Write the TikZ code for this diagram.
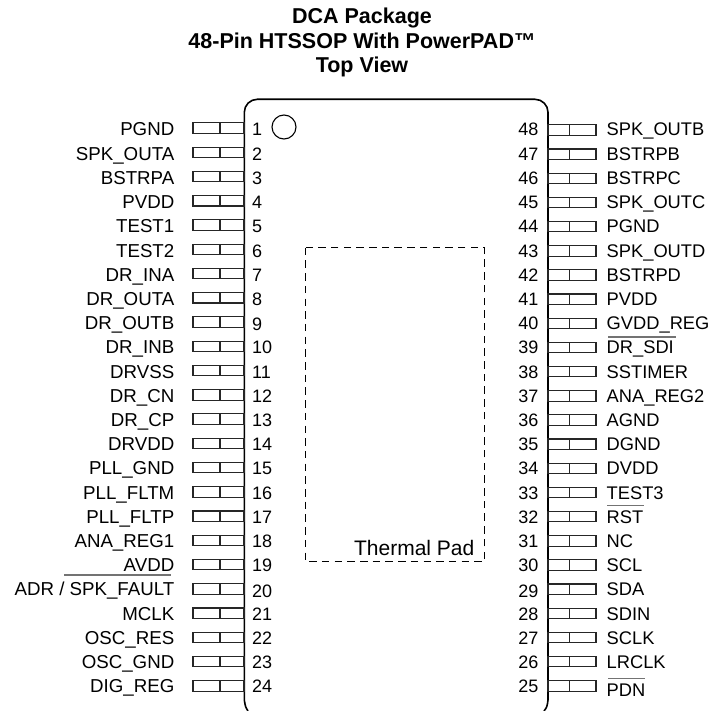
\documentclass[tikz,border=0pt]{standalone}
\usepackage{fontspec}
\setmainfont{Liberation Sans}
\usetikzlibrary{positioning}
\tikzset{
    pkg/.style={line width=1.6pt, black},
    pinbox/.style={line width=1.1pt, black!85},
    padline/.style={line width=1.2pt, black, dash pattern=on 7.5pt off 5.2pt},
    barline/.style={line width=1.1pt, black!55},
    pinlabel/.style={inner sep=0pt, font=\fontsize{18.7}{20}\selectfont},
    rightlabel/.style={inner sep=0pt, font=\fontsize{18.3}{20}\selectfont},
    pinnum/.style={inner sep=0pt, font=\fontsize{18}{20}\selectfont},
    titletext/.style={inner sep=0pt, anchor=base, font=\fontsize{21.5}{24}\selectfont\bfseries}
}
\begin{document}
\begin{tikzpicture}[x=1pt, y=-1pt]
    \useasboundingbox (0,0) rectangle (710,711);

    % title
    \node [titletext] (T1) at (362,24) {DCA Package};
    \node [titletext] (T2) at (362,49) {48-Pin HTSSOP With PowerPAD™};
    \node [titletext] (T3) at (362,72.7) {Top View};

    % package outline, runs off the bottom
    \coordinate (BL) at (248,711);
    \coordinate (BR) at (544,711);
    \draw [pkg] (BL) .. controls (245.5,707) .. (244.3,700)
        [rounded corners=13] -- (244.3,99.3) -- (548,99.3) [sharp corners] -- (548,700)
        .. controls (547,707) .. (BR);
    \draw [line width=1.1pt] (284,127) circle (12);

    % left pins
    \foreach \n/\lbl/\dy in {1/PGND/0, 2/SPK\_OUTA/0, 3/BSTRPA/0, 4/PVDD/0,
        5/TEST1/0, 6/TEST2/0, 7/DR\_INA/0, 8/DR\_OUTA/0, 9/DR\_OUTB/1,
        10/DR\_INB/0, 11/DRVSS/0, 12/DR\_CN/0, 13/DR\_CP/0, 14/DRVDD/0,
        15/PLL\_GND/0, 16/PLL\_FLTM/0, 17/PLL\_FLTP/0, 18/ANA\_REG1/0,
        19/AVDD/0, 20/{ADR / SPK\_FAULT}/2, 21/MCLK/0, 22/OSC\_RES/0,
        23/OSC\_GND/0, 24/DIG\_REG/0}{
        \pgfmathsetmacro{\py}{128+(\n-1)*24.26}
        \pgfmathsetmacro{\by}{136+(\n-1)*24.2}
        \draw [pinbox] (193,\py-5.2) rectangle (244,\py+5.2);
        \draw [pinbox] (220,\py-5.2) -- (220,\py+5.2);
        \node [pinlabel, anchor=base east] (L\n) at (174.5,\by) {\lbl};
        \node [pinnum, anchor=base west] (N\n) at (252,\by+\dy) {\n};
    }

    % right pins
    \foreach \n/\lbl/\dy in {48/SPK\_OUTB/0, 47/BSTRPB/0, 46/BSTRPC/0, 45/SPK\_OUTC/0,
        44/PGND/0, 43/SPK\_OUTD/0, 42/BSTRPD/0, 41/PVDD/0, 40/GVDD\_REG/0,
        39/DR\_SDI/0, 38/SSTIMER/0, 37/ANA\_REG2/0, 36/AGND/0, 35/DGND/0,
        34/DVDD/0, 33/TEST3/0, 32/RST/0, 31/NC/0, 30/SCL/0, 29/SDA/2,
        28/SDIN/0, 27/SCLK/0, 26/LRCLK/0, 25/{}/0}{
        \pgfmathsetmacro{\py}{130+(48-\n)*24.17}
        \pgfmathsetmacro{\by}{136+(48-\n)*24.2}
        \draw [pinbox] (548,\py-5.2) rectangle (596,\py+5.2);
        \draw [pinbox] (569.3,\py-5.2) -- (569.3,\py+5.2);
        \node [rightlabel, anchor=base west] (L\n) at (606.5,\by) {\lbl};
        \node [pinnum, anchor=base east] (N\n) at (538.5,\by+\dy) {\n};
    }
    \node [rightlabel, anchor=base west] (PDN) at (606.5,696) {PDN};

    % active low bars
    \draw [barline] (64,575) -- (171,575);
    \draw [barline] (608,337) -- (675.7,337);
    \draw [barline] (607,505.7) -- (644,505.7);
    \draw [barline] (608,678.7) -- (645,678.7);

    % thermal pad
    \draw [padline] (305.7,247.7) rectangle (484.3,561.7);
    \node [inner sep=0pt, anchor=base east, font=\fontsize{21}{24}\selectfont] (PAD) at (474.5,555) {Thermal Pad};
\end{tikzpicture}
\end{document}
